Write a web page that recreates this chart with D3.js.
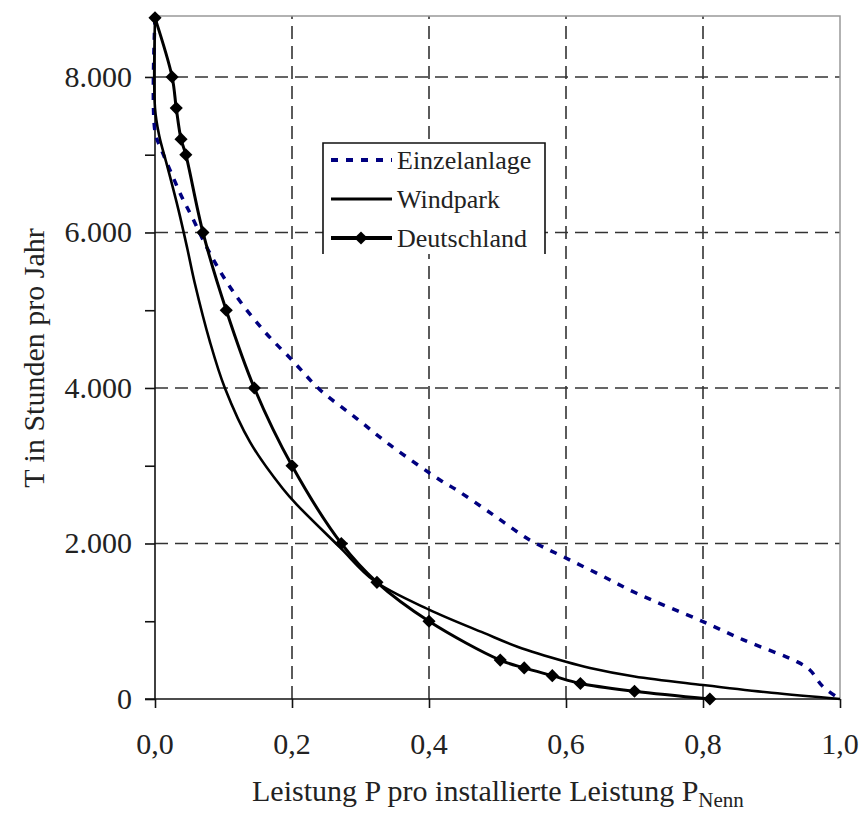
<!DOCTYPE html>
<html>
<head>
<meta charset="utf-8">
<script src="https://cdn.jsdelivr.net/npm/d3@7"></script>
<style>
  body { margin: 0; background: #fff; }
  svg text { font-family: "Liberation Serif", "DejaVu Serif", serif; fill: #222; }
</style>
</head>
<body>
<svg id="chart" width="864" height="814" font-family="Liberation Serif, serif"></svg>
<script>
// DATA (x = P / P_Nenn, y = hours per year)
var einzelX = [0, 0, 0.01, 0.024, 0.039, 0.054, 0.08, 0.114, 0.158, 0.202, 0.241, 0.294, 0.343, 0.416, 0.44, 0.494, 0.547, 0.596, 0.65, 0.703, 0.80, 0.859, 0.937, 0.956, 0.975, 1.0];
var einzelY = [8760, 7300, 7050, 6760, 6460, 6200, 5735, 5240, 4745, 4340, 3975, 3610, 3267, 2817, 2690, 2367, 2045, 1830, 1595, 1360, 995, 760, 480, 373, 160, 0];

var windparkX = [0, 0, 0.006, 0.018, 0.034, 0.047, 0.058, 0.08, 0.102, 0.139, 0.187, 0.207, 0.27, 0.32, 0.4, 0.48, 0.53, 0.6, 0.635, 0.70, 0.80, 0.90, 1.0];
var windparkY = [8760, 7600, 7250, 6850, 6300, 5800, 5350, 4600, 4000, 3300, 2700, 2500, 1950, 1520, 1150, 850, 670, 480, 400, 290, 180, 80, 0];

var deutschX = [0, 0.025, 0.031, 0.038, 0.045, 0.07, 0.104, 0.145, 0.2, 0.272, 0.324, 0.4, 0.504, 0.539, 0.58, 0.621, 0.70, 0.81];
var deutschY = [8760, 8000, 7600, 7200, 7000, 6000, 5000, 4000, 3000, 2000, 1500, 1000, 500, 400, 300, 200, 100, 0];

var xTicks = [0, 0.2, 0.4, 0.6, 0.8, 1.0];
var yTicks = [0, 2000, 4000, 6000, 8000];
var yMinorTicks = [0, 1000, 2000, 3000, 4000, 5000, 6000, 7000, 8000];
var seriesNames = ['Einzelanlage', 'Windpark', 'Deutschland'];

//.................................................................//
// SETUP
var svg = d3.select('#chart');
var de = d3.formatLocale({ decimal: ',', thousands: '.', grouping: [3], currency: ['', ' €'] });

var x = d3.scaleLinear().domain([0, 1]).range([155, 840]);
var y = d3.scaleLinear().domain([0, 8784]).range([699, 16]);

function pts(xs, ys) { return xs.map(function(v, i) { return [v, ys[i]]; }); }

// Grid
svg.append('g').selectAll('line.gx')
   .data(xTicks.slice(1, -1)).enter().append('line')
   .attr('x1', d => x(d)).attr('x2', d => x(d))
   .attr('y1', y(0)).attr('y2', 16)
   .style('stroke', '#333').style('stroke-width', 1.6).style('stroke-dasharray', '13,7');
svg.append('g').selectAll('line.gy')
   .data(yTicks.slice(1)).enter().append('line')
   .attr('x1', x(0)).attr('x2', x(1))
   .attr('y1', d => y(d)).attr('y2', d => y(d))
   .style('stroke', '#333').style('stroke-width', 1.6).style('stroke-dasharray', '13,7');

// Frame top / right (gray)
svg.append('path')
   .attr('d', 'M' + x(0) + ',16H' + x(1) + 'V' + y(0))
   .style('fill', 'none').style('stroke', '#999').style('stroke-width', 1.5);

// Axes
var yAxis = d3.axisLeft(y).tickValues(yMinorTicks).tickSize(10).tickFormat('');
svg.append('g').attr('transform', 'translate(' + x(0) + ',0)').call(yAxis)
   .call(g => g.select('.domain').attr('d', 'M0,' + y(0) + 'V16'));
var xAxis = d3.axisBottom(x).tickValues(xTicks).tickSize(9).tickFormat('');
svg.append('g').attr('transform', 'translate(0,' + y(0) + ')').call(xAxis)
   .call(g => g.select('.domain').attr('d', 'M' + (x(0) - 10) + ',0H' + x(1)));
svg.selectAll('.tick line, .domain').style('stroke', '#111').style('stroke-width', 1.6);

// Tick labels
svg.append('g').selectAll('text')
   .data(yTicks).enter().append('text')
   .attr('x', 132).attr('y', d => y(d) + 10)
   .attr('text-anchor', 'end').style('font-size', '30px')
   .text(d => de.format(',')(d));
svg.append('g').selectAll('text')
   .data(xTicks).enter().append('text')
   .attr('x', d => x(d)).attr('y', 754)
   .attr('text-anchor', 'middle').style('font-size', '30px')
   .text(d => de.format('.1f')(d));

// Axis titles
var xt = svg.append('text').attr('x', 252).attr('y', 801).style('font-size', '30px');
xt.append('tspan').text('Leistung P pro installierte Leistung P');
xt.append('tspan').attr('dy', 6).style('font-size', '21px').text('Nenn');
svg.append('text')
   .attr('transform', 'translate(44,358) rotate(-90)')
   .attr('text-anchor', 'middle').style('font-size', '30px')
   .text('T in Stunden pro Jahr');

//.................................................................//
// LINES
var line = d3.line().x(d => x(d[0])).y(d => y(d[1])).curve(d3.curveCatmullRom.alpha(0.5));

svg.append('path').datum(pts(einzelX, einzelY))
   .attr('d', line).style('fill', 'none')
   .style('stroke', '#000080').style('stroke-width', 3.5).style('stroke-dasharray', '7,8');
svg.append('path').datum(pts(windparkX, windparkY))
   .attr('d', line).style('fill', 'none')
   .style('stroke', '#000').style('stroke-width', 2.6);
svg.append('path').datum(pts(deutschX, deutschY))
   .attr('d', line).style('fill', 'none')
   .style('stroke', '#000').style('stroke-width', 3);

var diamond = d3.symbol().type(d3.symbolDiamond2).size(110)();
svg.append('g').selectAll('path')
   .data(pts(deutschX, deutschY)).enter().append('path')
   .attr('transform', d => 'translate(' + x(d[0]) + ',' + y(d[1]) + ')')
   .attr('d', diamond).style('fill', '#000');

//.................................................................//
// LEGEND
var lg = svg.append('g');
lg.append('rect').attr('x', 323).attr('y', 143).attr('width', 222).attr('height', 111).style('fill', '#fff');
lg.append('path').attr('d', 'M323,254V143H545V254')
  .style('fill', 'none').style('stroke', '#111').style('stroke-width', 1.6);
var rows = [160, 199, 238];
seriesNames.forEach(function(name, i) {
    var ly = rows[i];
    var ln = lg.append('line').attr('x1', 331).attr('x2', 392).attr('y1', ly).attr('y2', ly);
    if (i === 0) ln.style('stroke', '#000080').style('stroke-width', 4).style('stroke-dasharray', '7,8');
    else ln.style('stroke', '#000').style('stroke-width', i === 1 ? 3 : 4);
    if (i === 2) lg.append('path').attr('transform', 'translate(361,' + ly + ')').attr('d', diamond).style('fill', '#000');
    lg.append('text').attr('x', 397).attr('y', ly + 9).style('font-size', '26px').text(name);
});
</script>
</body>
</html>
